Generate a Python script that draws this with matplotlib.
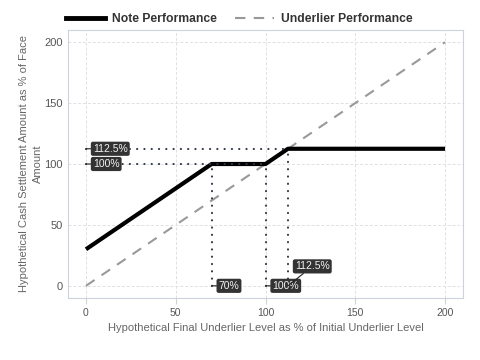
import matplotlib
matplotlib.use("Agg")
import matplotlib.pyplot as plt
from matplotlib.lines import Line2D

plt.rcParams['font.family'] = ['Liberation Sans', 'DejaVu Sans']

# payoff breakpoints (underlier level, note payoff)
note_x = [0, 70, 100, 112.5, 200]
note_y = [30, 100, 100, 112.5, 112.5]
under_x = [0, 200]
under_y = [0, 200]

# reference levels for the dotted guides
h_levels = [112.5, 100]
h_ends = [112.5, 100]
h_labels = ["112.5%", "100%"]
v_levels = [70, 100, 112.5]
v_tops = [100, 100, 112.5]
v_labels = ["70%", "100%", "112.5%"]
ticks = [0, 50, 100, 150, 200]

fig = plt.figure(figsize=(4.8, 3.6), dpi=100)
ax = fig.add_axes([0.1417, 0.1722, 0.8229, 0.7445])

ax.set_xlim(-10, 210)
ax.set_ylim(-10, 210)
ax.set_xticks(ticks)
ax.set_yticks(ticks)
ax.grid(True, color='#e0e0e0', linestyle=(0, (3, 2)), linewidth=0.7)
ax.set_axisbelow(True)

ax.plot(under_x, under_y, color='#999999', linestyle=(0, (5, 4)), linewidth=1.5, zorder=2)
ax.plot(note_x, note_y, color='black', linewidth=3, solid_capstyle='butt', zorder=3)

dot = dict(color='#2e3748', linestyle=(0, (0.1, 3.4)), linewidth=1.5,
           dash_capstyle='round', zorder=4)
for y, xe in zip(h_levels, h_ends):
    ax.plot([0, xe], [y, y], **dot)
for x, yt in zip(v_levels, v_tops):
    ax.plot([x, x], [0, yt], **dot)

box = dict(boxstyle='round,pad=0.2,rounding_size=0.2', fc='#333333', ec='none')
arrow = dict(arrowstyle='-', color='#222222', lw=0.8, shrinkA=0, shrinkB=0)
for y, lab in zip(h_levels, h_labels):
    ax.annotate(lab, xy=(0, y), xytext=(5, 0), textcoords='offset points',
                ha='left', va='center', fontsize=7.5, color='#f2f2f2', bbox=box,
                arrowprops=arrow, zorder=5)
offsets = [(5, 0), (5, 0), (5, 14)]
for x, lab, off in zip(v_levels, v_labels, offsets):
    ax.annotate(lab, xy=(x, 0), xytext=off, textcoords='offset points',
                ha='left', va='center', fontsize=7.5, color='#f2f2f2', bbox=box,
                arrowprops=arrow, zorder=5)

for s in ax.spines.values():
    s.set_color('#cdd3dc')
    s.set_linewidth(0.8)
ax.tick_params(axis='x', length=4, color='#cdd3dc', labelsize=7.5, labelcolor='#555555', pad=3)
ax.tick_params(axis='y', length=0, labelsize=8, labelcolor='#555555', pad=4)

ax.set_xlabel("Hypothetical Final Underlier Level as % of Initial Underlier Level",
              fontsize=8, color='#666666', labelpad=4)
ax.set_ylabel("Hypothetical Cash Settlement Amount as % of Face\nAmount",
              fontsize=8, color='#666666', labelpad=1, linespacing=1.5)

handles = [Line2D([], [], color='black', linewidth=3.5),
           Line2D([], [], color='#999999', linestyle=(0, (5, 4)), linewidth=1.5)]
fig.legend(handles, ["Note Performance", "Underlier Performance"],
           loc='center left', bbox_to_anchor=(0.115, 0.947), ncol=2, frameon=False,
           prop={'weight': 'bold', 'size': 8.7}, labelcolor='#333333',
           handlelength=3.2, columnspacing=1.5, handletextpad=0.6)

fig.savefig("out.png", dpi=100)
